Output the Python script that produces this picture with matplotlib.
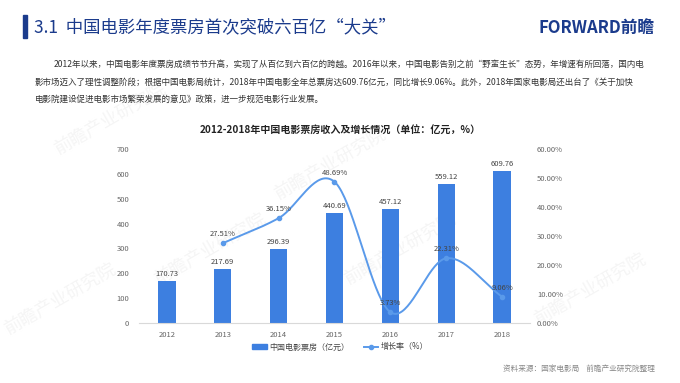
import numpy as np
import matplotlib
matplotlib.use("Agg")
import matplotlib.pyplot as plt
from matplotlib.lines import Line2D
from matplotlib.patches import Patch

plt.rcParams['font.family'] = ['Noto Sans CJK SC', 'DejaVu Sans']

# data
years = ['2012', '2013', '2014', '2015', '2016', '2017', '2018']
box_office = [170.73, 217.69, 296.39, 440.69, 457.12, 559.12, 609.76]
growth_years = ['2013', '2014', '2015', '2016', '2017', '2018']
growth = [27.51, 36.15, 48.69, 3.73, 22.31, 9.06]
left_ticks = [0, 100, 200, 300, 400, 500, 600, 700]
right_ticks = [0, 10, 20, 30, 40, 50, 60]

bar_color = '#3d7fe0'
line_color = '#5a9aea'
navy = '#1b3b8c'
gray = '#666666'


def catmull_rom(x, y, n=40):
    x = np.asarray(x, float)
    y = np.asarray(y, float)
    m = np.zeros_like(y)
    m[0] = y[1] - y[0]
    m[-1] = y[-1] - y[-2]
    m[1:-1] = (y[2:] - y[:-2]) / 2
    xs, ys = [], []
    for i in range(len(x) - 1):
        t = np.linspace(0, 1, n)
        h00 = 2 * t**3 - 3 * t**2 + 1
        h10 = t**3 - 2 * t**2 + t
        h01 = -2 * t**3 + 3 * t**2
        h11 = t**3 - t**2
        xs.append(x[i] + t * (x[i + 1] - x[i]))
        ys.append(h00 * y[i] + h10 * m[i] + h01 * y[i + 1] + h11 * m[i + 1])
    return np.concatenate(xs), np.concatenate(ys)


fig = plt.figure(figsize=(6.8, 3.83), dpi=100)
fig.patch.set_facecolor('white')

# header
fig.patches.append(plt.Rectangle((23 / 680, 1 - 38 / 383), 4 / 680, 23 / 383,
                                 transform=fig.transFigure, color=navy))
fig.text(34 / 680, 1 - 27 / 383, '3.1  中国电影年度票房首次突破六百亿“大关”',
         fontsize=12.5, color=navy, va='center', ha='left')
fig.text(655 / 680, 1 - 28 / 383, 'FORWARD前瞻', fontsize=12, color=navy,
         fontweight='bold', va='center', ha='right')

para = ['2012年以来，中国电影年度票房成绩节节升高，实现了从百亿到六百亿的跨越。2016年以来，中国电影告别之前“野蛮生长”态势，年增速有所回落，国内电',
        '影市场迈入了理性调整阶段；根据中国电影局统计，2018年中国电影全年总票房达609.76亿元，同比增长9.06%。此外，2018年国家电影局还出台了《关于加快',
        '电影院建设促进电影市场繁荣发展的意见》政策，进一步规范电影行业发展。']
fig.text(54 / 680, 1 - 64 / 383, para[0], fontsize=6.15, color='#333333', va='center')
fig.text(35 / 680, 1 - 82 / 383, para[1], fontsize=6.15, color='#333333', va='center')
fig.text(35 / 680, 1 - 99 / 383, para[2], fontsize=6.15, color='#333333', va='center')

fig.text(340 / 680, 1 - 130 / 383, '2012-2018年中国电影票房收入及增长情况（单位：亿元，%）',
         fontsize=7.2, fontweight='bold', color='#222222', ha='center', va='center')

# faint watermarks
for wx, wy in [(60, 300), (210, 250), (330, 165), (400, 250), (590, 290), (110, 120)]:
    fig.text(wx / 680, 1 - wy / 383, '前瞻产业研究院', fontsize=13, color='#f5f5f5',
             rotation=30, ha='center', va='center', zorder=-1)

ax = fig.add_axes([139 / 680, 1 - 323 / 383, 391 / 680, 174 / 383])
ax.set_facecolor('none')
x = np.arange(len(years))
ax.bar(x, box_office, width=0.31, color=bar_color, zorder=2)
for xi, v in zip(x, box_office):
    ax.text(xi, v + 12, f'{v:.2f}', ha='center', va='bottom', fontsize=5.5, color='#444444')

ax.set_xlim(-0.5, len(years) - 0.5)
ax.set_ylim(0, 700)
ax.set_yticks(left_ticks)
ax.set_xticks(x)
ax.set_xticklabels(years)
ax.tick_params(axis='both', length=0, labelsize=5.5, labelcolor=gray)
ax.tick_params(axis='y', pad=7)
ax.tick_params(axis='x', pad=6)
for s in ['top', 'right', 'left']:
    ax.spines[s].set_visible(False)
ax.spines['bottom'].set_color('#d9d9d9')
ax.spines['bottom'].set_linewidth(0.8)

ax2 = ax.twinx()
gx = np.array([years.index(g) for g in growth_years])
sx, sy = catmull_rom(gx, growth)
ax2.plot(sx, sy, color=line_color, lw=1.4, zorder=3)
ax2.plot(gx, growth, 'o', color=line_color, ms=3, zorder=4)
for xi, v in zip(gx, growth):
    ax2.text(xi, v + 1.8, f'{v:.2f}%', ha='center', va='bottom', fontsize=5.5, color='#444444')
ax2.set_ylim(0, 60)
ax2.set_yticks(right_ticks)
ax2.set_yticklabels([f'{t:.2f}%' for t in right_ticks])
ax2.tick_params(axis='y', length=0, labelsize=5.5, labelcolor=gray, pad=5)
for s in ['top', 'right', 'left', 'bottom']:
    ax2.spines[s].set_visible(False)

handles = [Patch(color=bar_color, label='中国电影票房（亿元）'),
           Line2D([0], [0], color=line_color, marker='o', ms=3, lw=1.4, label='增长率（%）')]
fig.legend(handles=handles, loc='center', bbox_to_anchor=(340 / 680, 1 - 347 / 383),
           ncol=2, frameon=False, fontsize=5.8, labelcolor='#444444',
           handlelength=1.8, handleheight=0.5, columnspacing=1.8, handletextpad=0.3)

fig.text(655 / 680, 1 - 369 / 383, '资料来源：国家电影局    前瞻产业研究院整理',
         fontsize=5.5, color='#888888', ha='right', va='center')

fig.savefig('out.png', dpi=100, facecolor='white')
